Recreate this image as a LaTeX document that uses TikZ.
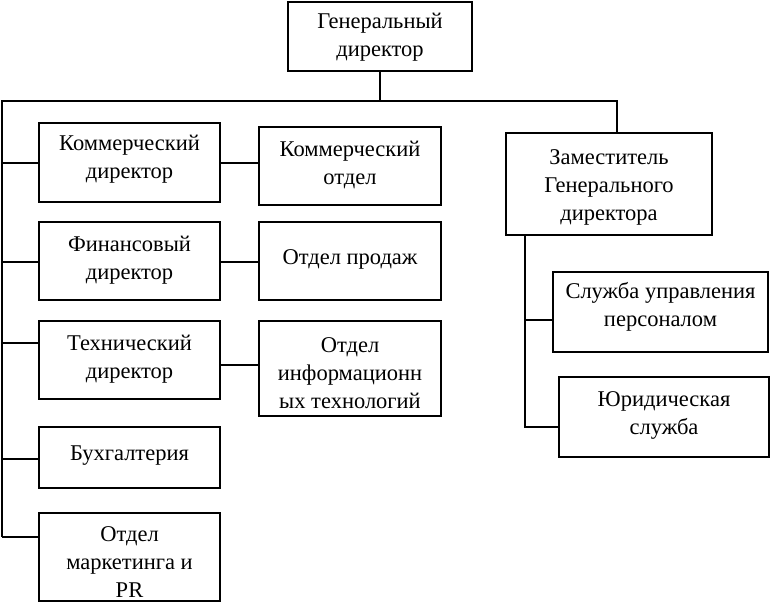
\documentclass[tikz,border=0pt]{standalone}
\usepackage{fontspec}
\setmainfont{Liberation Serif}
\newcommand\topstr[1]{\rule{0pt}{#1pt}}
\newcommand\botstr[1]{\rule[-#1pt]{0pt}{0pt}}
\begin{document}
\begin{tikzpicture}[x=1pt,y=-1pt,
  box/.style={draw=black, line width=2.5pt, fill=white, align=center, inner sep=0pt,
    font=\fontsize{22.5}{28}\selectfont},
  wire/.style={draw=black, line width=2.5pt}]
\useasboundingbox (0,0) rectangle (770,603);
\node[box, minimum width=184, minimum height=69] (gen) at (380,36.5) {\topstr{18}Генеральный\\директор\botstr{6}};
\node[box, minimum width=181, minimum height=79] (komdir) at (129.5,162.5) {\topstr{16}Коммерческий\\директор\botstr{12}};
\node[box, minimum width=182, minimum height=78] (komotd) at (350,166) {\topstr{16}Коммерческий\\отдел\botstr{7}};
\node[box, minimum width=181, minimum height=78] (fin) at (129.5,261) {\topstr{16}Финансовый\\директор\botstr{7}};
\node[box, minimum width=182, minimum height=78] (prod) at (350,261) {\topstr{16}Отдел продаж\botstr{10}};
\node[box, minimum width=181, minimum height=78] (tekh) at (129.5,360) {\topstr{16}Технический\\директор\botstr{8}};
\node[box, minimum width=182, minimum height=95] (it) at (350,368.5) {\topstr{29}Отдел\\информационн\\ых технологий\botstr{6}};
\node[box, minimum width=181, minimum height=61] (bukh) at (129.5,457.5) {\topstr{16}Бухгалтерия\botstr{11}};
\node[box, minimum width=181, minimum height=88] (mark) at (129.5,557) {\topstr{26}Отдел\\маркетинга и\\PR\botstr{2}};
\node[box, minimum width=206, minimum height=102] (zam) at (609,184) {\topstr{22}Заместитель\\Генерального\\директора\botstr{6}};
\node[box, minimum width=215, minimum height=80] (sluzh) at (660.5,312) {\topstr{16}Служба управления\\персоналом\botstr{16}};
\node[box, minimum width=210, minimum height=80] (yur) at (664,417) {\topstr{16}Юридическая\\служба\botstr{10}};
\coordinate (tl) at (2,101);
\coordinate (tr) at (617,101);
\coordinate (bl) at (2,537);
\coordinate (zt) at (525,427);
\draw[wire] (gen.south) -- (gen.south |- tl);
\draw[wire] (bl) -- (tl) -- (tr) -- (tr |- zam.north);
\draw[wire] (tl |- 0,163) -- (komdir.west |- 0,163);
\draw[wire] (tl |- 0,262) -- (fin.west |- 0,262);
\draw[wire] (tl |- 0,343) -- (tekh.west |- 0,343);
\draw[wire] (tl |- 0,459) -- (bukh.west |- 0,459);
\draw[wire] (bl) -- (mark.west |- bl);
\draw[wire] (komdir.east |- 0,163) -- (komotd.west |- 0,163);
\draw[wire] (fin.east |- 0,262) -- (prod.west |- 0,262);
\draw[wire] (tekh.east |- 0,365) -- (it.west |- 0,365);
\draw[wire] (zam.south -| zt) -- (zt) -- (yur.west |- zt);
\draw[wire] (zt |- 0,320) -- (sluzh.west |- 0,320);
\end{tikzpicture}
\end{document}
